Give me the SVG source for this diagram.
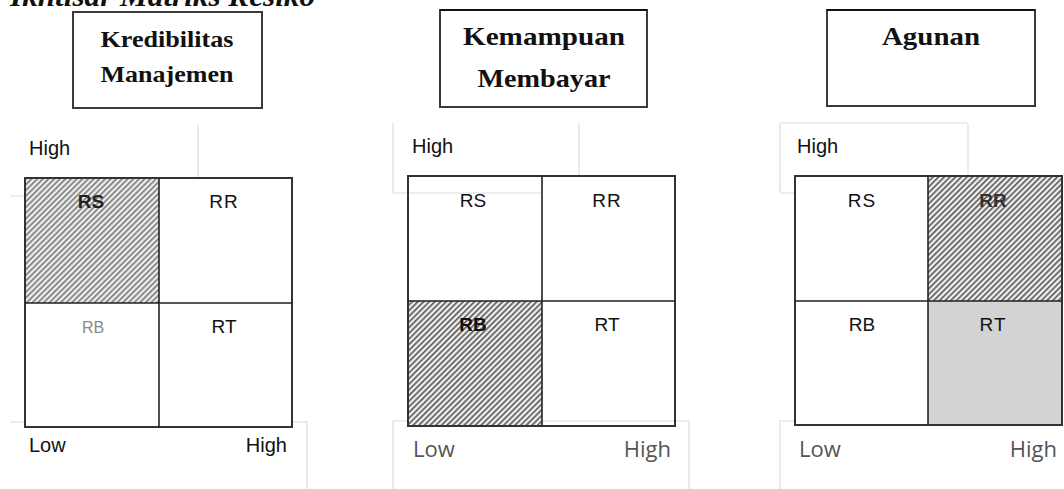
<svg xmlns="http://www.w3.org/2000/svg" width="1064" height="489" viewBox="0 0 1064 489">
  <defs>
    <pattern id="hatch" patternUnits="userSpaceOnUse" width="4" height="4" patternTransform="rotate(45)">
      <rect width="4" height="4" fill="#efefef"/>
      <rect width="1.6" height="4" fill="#555"/>
    </pattern>
    <pattern id="hatchLight" patternUnits="userSpaceOnUse" width="4" height="4" patternTransform="rotate(45)">
      <rect width="4" height="4" fill="#eeeeee"/>
      <rect width="1.6" height="4" fill="#777"/>
    </pattern>
  </defs>
  <style>
    .title{font-family:"Liberation Serif",serif;font-weight:bold;font-style:italic;font-size:30px;fill:#111}
    .box{fill:#fff;stroke:#3a3a3a;stroke-width:2}
    .boxtxt{font-family:"Liberation Serif",serif;font-weight:bold;fill:#111;text-anchor:middle}
    .cell{fill:none;stroke:#333;stroke-width:2}
    .grid{stroke:#222;stroke-width:1.6;fill:none}
    .guide{stroke:#dcdcdc;stroke-width:1.2;fill:none}
    .lbl{font-family:"Liberation Sans",Arial,sans-serif;font-size:19px;fill:#111;text-anchor:middle}
    .axis{font-family:"Liberation Sans",Arial,sans-serif;font-size:20px;fill:#111}
    .axis2{font-family:"Open Sans","Noto Sans",sans-serif;font-size:22px;fill:#555}
  </style>

  <text class="title" x="10" y="6" textLength="305" lengthAdjust="spacingAndGlyphs">Ikhtisar Matriks Resiko</text>

  <!-- Panel 1 -->
  <g id="panel1">
    <g id="box1">
      <rect class="box" x="73" y="12" width="189" height="96"/>
      <text class="boxtxt" x="167" y="47" font-size="24" textLength="133" lengthAdjust="spacingAndGlyphs">Kredibilitas</text>
      <text class="boxtxt" x="167" y="82" font-size="24" textLength="133" lengthAdjust="spacingAndGlyphs">Manajemen</text>
    </g>
    <g id="guides1">
      <path class="guide" d="M198 125 V178 M10 196 H25 M10 422 H25 M292 422 H307 V489"/>
    </g>
    <text class="axis" x="29" y="155">High</text>
    <g id="matrix1">
      <rect x="25" y="178" width="134" height="125" fill="url(#hatchLight)"/>
      <rect class="cell" x="25" y="178" width="267" height="249"/>
      <path class="grid" d="M159 178 V427 M25 303 H292"/>
      <text class="lbl" x="91" y="208" style="font-weight:bold;fill:#222">RS</text>
      <text class="lbl" x="224" y="208" letter-spacing="1">RR</text>
      <text class="lbl" x="93" y="333" style="font-size:16px;fill:#8a8a8a">RB</text>
      <text class="lbl" x="224" y="333">RT</text>
    </g>
    <text class="axis" x="29" y="452">Low</text>
    <text class="axis" x="287" y="452" text-anchor="end">High</text>
  </g>

  <!-- Panel 2 -->
  <g id="panel2">
    <g id="box2">
      <rect class="box" x="440" y="10" width="207" height="97"/>
      <line x1="440" y1="10" x2="647" y2="10" stroke="#111" stroke-width="2"/>
      <text class="boxtxt" x="544" y="45" font-size="26" textLength="162" lengthAdjust="spacingAndGlyphs">Kemampuan</text>
      <text class="boxtxt" x="544" y="87" font-size="26" textLength="133" lengthAdjust="spacingAndGlyphs">Membayar</text>
    </g>
    <g id="guides2">
      <path class="guide" d="M393 123 V193 H542 M579 123 V176 M393 489 V421 H689 V489"/>
    </g>
    <text class="axis" x="412" y="153">High</text>
    <g id="matrix2">
      <rect x="408" y="301" width="134" height="125" fill="url(#hatch)"/>
      <rect class="cell" x="408" y="176" width="267" height="250"/>
      <path class="grid" d="M542 176 V426 M408 301 H675"/>
      <text class="lbl" x="473" y="207">RS</text>
      <text class="lbl" x="607" y="207" letter-spacing="1">RR</text>
      <text class="lbl" x="473" y="331" style="font-weight:bold">RB</text>
      <text class="lbl" x="607" y="331">RT</text>
    </g>
    <text class="axis2" x="413" y="457">Low</text>
    <text class="axis2" x="671" y="457" text-anchor="end">High</text>
  </g>

  <!-- Panel 3 -->
  <g id="panel3">
    <g id="box3">
      <rect class="box" x="827" y="10" width="208" height="96"/>
      <line x1="827" y1="10" x2="1035" y2="10" stroke="#111" stroke-width="2"/>
      <text class="boxtxt" x="931" y="45" font-size="26" textLength="98" lengthAdjust="spacingAndGlyphs">Agunan</text>
    </g>
    <g id="guides3">
      <rect class="guide" x="780" y="123" width="188" height="70" rx="2"/>
      <path class="guide" d="M780 489 V421 H795"/>
    </g>
    <text class="axis" x="797" y="153">High</text>
    <g id="matrix3">
      <rect x="795" y="176" width="267" height="250" fill="#fff"/>
      <rect x="928" y="176" width="134" height="125" fill="url(#hatch)"/>
      <rect x="928" y="301" width="134" height="125" fill="#d3d3d3"/>
      <rect class="cell" x="795" y="176" width="267" height="249"/>
      <path class="grid" d="M928 176 V425 M795 301 H1062"/>
      <text class="lbl" x="862" y="207" letter-spacing="1">RS</text>
      <text class="lbl" x="993" y="207" style="font-weight:bold;fill:#333">RR</text>
      <text class="lbl" x="862" y="331">RB</text>
      <text class="lbl" x="993" y="331" letter-spacing="1">RT</text>
    </g>
    <text class="axis2" x="799" y="457">Low</text>
    <text class="axis2" x="1057" y="457" text-anchor="end">High</text>
  </g>
</svg>
